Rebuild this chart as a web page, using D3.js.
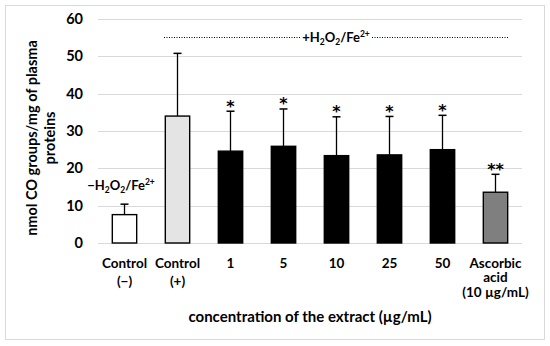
<!DOCTYPE html>
<html>
<head>
<meta charset="utf-8">
<script src="https://cdn.jsdelivr.net/npm/d3@7"></script>
<style>
  body { margin: 0; background: #fff; }
  svg text { font-family: Lato, "Open Sans", sans-serif; font-weight: bold; fill: #000; }
</style>
</head>
<body>
<svg width="550" height="346"></svg>
<script>
// data
const categories = ["c-", "c+", "1", "5", "10", "25", "50", "aa"];
const tickLabels = [["Control", "(\u2212)"], ["Control", "(+)"], ["1"], ["5"], ["10"], ["25"], ["50"], ["Ascorbic", "acid", "(10 \u00b5g/mL)"]];
const means = [7.6, 34.0, 24.6, 25.9, 23.4, 23.6, 25.0, 13.6];
const errors = [2.8, 16.8, 10.7, 10.0, 10.4, 10.3, 9.2, 4.8];
const stars = ["", "", "*", "*", "*", "*", "*", "**"];
const fills = ["#ffffff", "#e4e4e4", "#000000", "#000000", "#000000", "#000000", "#000000", "#7f7f7f"];
const yTicks = [0, 10, 20, 30, 40, 50, 60];

const svg = d3.select("svg");

//Outer frame
svg.append("rect")
    .attr("x", 5.5).attr("y", 5.5)
    .attr("width", 539).attr("height", 334)
    .attr("fill", "none")
    .attr("stroke", "#d9d9d9");

const plotLeft = 98, plotRight = 522, plotTop = 19, plotBottom = 243;

const x = d3.scaleBand()
    .domain(categories)
    .range([plotLeft, plotRight])
    .paddingInner(0.54)
    .paddingOuter(0.27);

const y = d3.scaleLinear()
    .domain([0, 60])
    .range([plotBottom, plotTop]);

//Gridlines
svg.append("g")
    .selectAll("line")
    .data(yTicks)
    .enter()
    .append("line")
    .attr("x1", plotLeft).attr("x2", plotRight)
    .attr("y1", d => Math.round(y(d)) + 0.5)
    .attr("y2", d => Math.round(y(d)) + 0.5)
    .attr("stroke", "#d9d9d9")
    .attr("stroke-width", 1);

//Y axis labels
const yAxis = svg.append("g")
    .attr("transform", `translate(${plotLeft - 15}, 0)`)
    .call(d3.axisLeft(y).tickValues(yTicks).tickSize(0).tickPadding(0));
yAxis.select(".domain").remove();
yAxis.selectAll("text")
    .attr("font-size", "14.5px");

//Error bars
const cx = d => x(d) + x.bandwidth() / 2;
svg.append("g")
    .selectAll("line")
    .data(categories)
    .enter()
    .append("line")
    .attr("x1", cx).attr("x2", cx)
    .attr("y1", (d, i) => y(means[i]))
    .attr("y2", (d, i) => y(means[i] + errors[i]))
    .attr("stroke", "#000")
    .attr("stroke-width", 1.3);

svg.append("g")
    .selectAll("line")
    .data(categories)
    .enter()
    .append("line")
    .attr("x1", d => cx(d) - 4).attr("x2", d => cx(d) + 4)
    .attr("y1", (d, i) => y(means[i] + errors[i]))
    .attr("y2", (d, i) => y(means[i] + errors[i]))
    .attr("stroke", "#000")
    .attr("stroke-width", 1.5);

//Bars
svg.append("g")
    .selectAll("rect")
    .data(categories)
    .enter()
    .append("rect")
    .attr("x", d => x(d))
    .attr("y", (d, i) => y(means[i]))
    .attr("width", x.bandwidth())
    .attr("height", (d, i) => y(0) - y(means[i]))
    .attr("fill", (d, i) => fills[i])
    .attr("stroke", "#000")
    .attr("stroke-width", 1.4);

//Significance stars
svg.append("g")
    .selectAll("text")
    .data(categories)
    .enter()
    .append("text")
    .attr("x", cx)
    .attr("y", (d, i) => y(means[i] + errors[i]) + 0.5)
    .attr("text-anchor", "middle")
    .style("font-family", "'DejaVu Sans', sans-serif")
    .attr("font-size", "16px")
    .text((d, i) => stars[i]);

//X tick labels
const xl = svg.append("g")
    .selectAll("text")
    .data(categories)
    .enter()
    .append("text")
    .attr("x", cx)
    .attr("y", 267.5)
    .attr("text-anchor", "middle")
    .attr("font-size", "13.5px");
xl.selectAll("tspan")
    .data((d, i) => tickLabels[i].map(t => ({t: t, n: tickLabels[i].length})))
    .enter()
    .append("tspan")
    .attr("x", function() { return d3.select(this.parentNode).attr("x"); })
    .attr("dy", (d, i) => i === 0 ? 0 : (d.n > 2 ? 14.7 : 18))
    .text(d => d.t);

//X axis title
svg.append("text")
    .attr("x", 310)
    .attr("y", 322)
    .attr("text-anchor", "middle")
    .attr("font-size", "15px")
    .text("concentration of the extract (\u00b5g/mL)");

//Y axis title
svg.append("text")
    .attr("transform", "translate(37, 138) rotate(-90)")
    .attr("text-anchor", "middle")
    .attr("font-size", "14.5px")
    .text("nmol CO groups/mg of plasma");
svg.append("text")
    .attr("transform", "translate(55, 138) rotate(-90)")
    .attr("text-anchor", "middle")
    .attr("font-size", "14.5px")
    .text("proteins");

//Treatment annotations
function h2o2(sel, sign) {
    sel.append("tspan").text(sign + "H");
    sel.append("tspan").attr("font-size", "8.5px").attr("dy", 3).text("2");
    sel.append("tspan").attr("dy", -3).text("O");
    sel.append("tspan").attr("font-size", "8.5px").attr("dy", 3).text("2");
    sel.append("tspan").attr("dy", -3).text("/Fe");
    sel.append("tspan").attr("font-size", "8.5px").attr("dy", -5).text("2+");
}

const plus = svg.append("text")
    .attr("x", 336)
    .attr("y", 41.5)
    .attr("text-anchor", "middle")
    .attr("font-size", "13px");
h2o2(plus, "+");

svg.append("g")
    .selectAll("line")
    .data([[164, 300], [372, 508]])
    .enter()
    .append("line")
    .attr("x1", d => d[0]).attr("x2", d => d[1])
    .attr("y1", 37.5).attr("y2", 37.5)
    .attr("stroke", "#000")
    .attr("stroke-width", 1)
    .attr("stroke-dasharray", "1,1.5");

const minus = svg.append("text")
    .attr("x", 121)
    .attr("y", 190)
    .attr("text-anchor", "middle")
    .attr("font-size", "13px");
h2o2(minus, "\u2212");
</script>
</body>
</html>
